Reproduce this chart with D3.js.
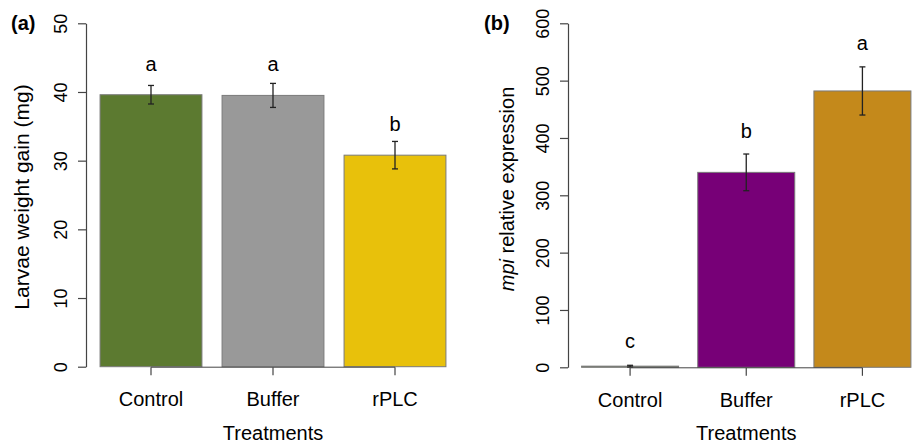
<!DOCTYPE html>
<html>
<head>
<meta charset="utf-8">
<script src="https://cdn.jsdelivr.net/npm/d3@7"></script>
<style>
  body { margin: 0; background: #fff; }
  svg { display: block; font-family: "Liberation Sans", Arial, sans-serif; }
</style>
</head>
<body>
<div id="chart"></div>
<script>
// --- Daten ---
const categories = ["Control", "Buffer", "rPLC"];

// Panel (a): Gewichtszunahme der Larven
const weightMean = [39.6, 39.5, 30.8];
const weightSE = [1.35, 1.75, 2.0];
const weightLetters = ["a", "a", "b"];
const weightLetterY = [43, 43, 34.3];
const weightTicks = [0, 10, 20, 30, 40, 50];

// Panel (b): mpi relative Expression
const mpiMean = [2, 340, 482];
const mpiSE = [1.5, 32, 42];
const mpiLetters = ["c", "b", "a"];
const mpiLetterY = [34, 400, 553];
const mpiTicks = [0, 100, 200, 300, 400, 500, 600];

const colorsA = ["#5c7a30", "#999999", "#e8c10b"];
const colorsB = ["#6a7d4e", "#770077", "#c4891b"];

const W = 919, H = 443;
const svg = d3.select("#chart").append("svg")
  .attr("width", W)
  .attr("height", H);

// zeichnet ein Panel
function drawPanel(opt) {
  const x = d3.scaleBand()
    .domain(categories)
    .range(opt.xRange)
    .paddingInner(0.165)
    .paddingOuter(0.0825);

  const y = d3.scaleLinear()
    .domain([0, d3.max(opt.ticks)])
    .range(opt.yRange);

  const g = svg.append("g");

  // Balken
  g.selectAll("rect.bar")
    .data(opt.mean)
    .enter()
    .append("rect")
    .attr("class", "bar")
    .attr("x", (d, i) => x(categories[i]))
    .attr("y", d => y(d))
    .attr("width", x.bandwidth())
    .attr("height", d => Math.max(1, y(0) - y(d)))
    .attr("fill", (d, i) => opt.colors[i])
    .attr("stroke", "#7a7a7a")
    .attr("stroke-width", 1);

  // Fehlerbalken
  const cx = i => x(categories[i]) + x.bandwidth() / 2;
  const err = g.selectAll("g.err")
    .data(opt.mean)
    .enter()
    .append("g")
    .attr("class", "err")
    .attr("stroke", "#222")
    .attr("stroke-width", 1.3);
  err.append("line")
    .attr("x1", (d, i) => cx(i)).attr("x2", (d, i) => cx(i))
    .attr("y1", (d, i) => y(d + opt.se[i]))
    .attr("y2", (d, i) => y(d - opt.se[i]));
  err.append("line")
    .attr("x1", (d, i) => cx(i) - 3).attr("x2", (d, i) => cx(i) + 3)
    .attr("y1", (d, i) => y(d + opt.se[i]))
    .attr("y2", (d, i) => y(d + opt.se[i]));
  err.append("line")
    .attr("x1", (d, i) => cx(i) - 3).attr("x2", (d, i) => cx(i) + 3)
    .attr("y1", (d, i) => y(d - opt.se[i]))
    .attr("y2", (d, i) => y(d - opt.se[i]));

  // Buchstaben (Signifikanz)
  g.selectAll("text.letter")
    .data(opt.letters)
    .enter()
    .append("text")
    .attr("class", "letter")
    .attr("x", (d, i) => cx(i))
    .attr("y", (d, i) => y(opt.letterY[i]))
    .attr("text-anchor", "middle")
    .style("font-size", "20px")
    .text(d => d);

  // Y-Achse
  const yAxis = g.append("g")
    .attr("transform", `translate(${opt.axisX},0)`)
    .call(d3.axisLeft(y).tickValues(opt.ticks).tickSize(8).tickSizeOuter(0));
  yAxis.selectAll("text")
    .attr("transform", "rotate(-90)")
    .attr("x", 0)
    .attr("y", -19)
    .attr("dy", 0)
    .attr("text-anchor", "middle")
    .style("font-size", "18px")
    .style("fill", "#000");

  // X-Achse (R-Stil: Linie nur von erstem bis letztem Tick)
  const xAxis = g.append("g")
    .attr("transform", `translate(0,${y(0) + 0.5})`)
    .call(d3.axisBottom(x).tickSize(8).tickSizeOuter(0));
  xAxis.select(".domain").remove();
  xAxis.append("line")
    .attr("x1", cx(0)).attr("x2", cx(categories.length - 1))
    .attr("stroke", "#444");
  xAxis.selectAll("text")
    .attr("y", 39)
    .attr("dy", 0)
    .style("font-size", "20px")
    .style("fill", "#000");

  g.selectAll(".domain, .tick line").attr("stroke", "#444").attr("stroke-width", 1.2);

  // Achsentitel
  g.append("text")
    .attr("x", cx(1))
    .attr("y", 440)
    .attr("text-anchor", "middle")
    .style("font-size", "20px")
    .text("Treatments");

  const yl = g.append("text")
    .attr("transform", `translate(${opt.yLabelX},${opt.yLabelY}) rotate(-90)`)
    .attr("text-anchor", "middle")
    .style("font-size", opt.yLabelSize);
  opt.yLabel(yl);

  // Panelbeschriftung
  g.append("text")
    .attr("x", opt.tagX)
    .attr("y", 30)
    .style("font-size", "20px")
    .style("font-weight", "bold")
    .text(opt.tag);
}

drawPanel({
  xRange: [90, 456],
  yRange: [366.7, 23.3],
  axisX: 86,
  ticks: weightTicks,
  mean: weightMean,
  se: weightSE,
  letters: weightLetters,
  letterY: weightLetterY,
  colors: colorsA,
  yLabelX: 29,
  yLabelY: 197,
  yLabelSize: "21px",
  yLabel: t => t.text("Larvae weight gain (mg)"),
  tag: "(a)",
  tagX: 11
});

drawPanel({
  xRange: [572, 920.5],
  yRange: [367.3, 23.3],
  axisX: 568,
  ticks: mpiTicks,
  mean: mpiMean,
  se: mpiSE,
  letters: mpiLetters,
  letterY: mpiLetterY,
  colors: colorsB,
  yLabelX: 514,
  yLabelY: 189,
  yLabelSize: "20px",
  yLabel: t => {
    t.append("tspan").style("font-style", "italic").text("mpi");
    t.append("tspan").text(" relative expression");
  },
  tag: "(b)",
  tagX: 484
});
</script>
</body>
</html>
